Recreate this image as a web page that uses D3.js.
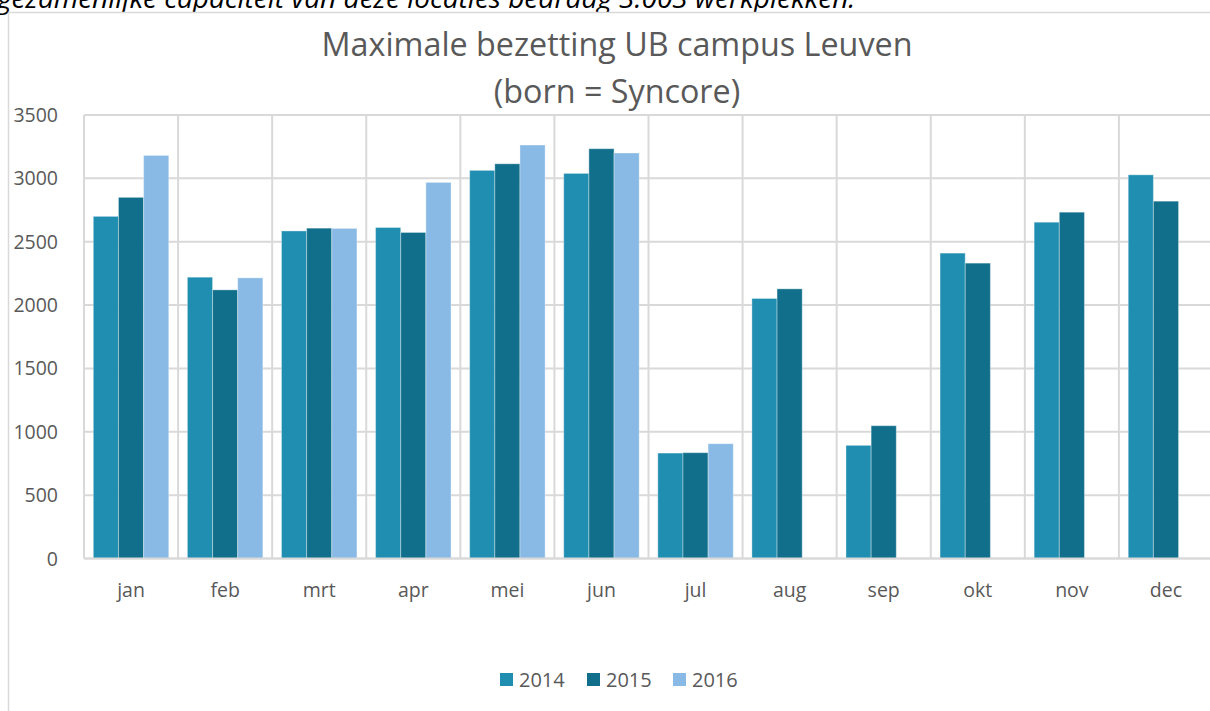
<!DOCTYPE html>
<html>
<head>
<meta charset="utf-8">
<script src="https://cdn.jsdelivr.net/npm/d3@7"></script>
<style>
	body { margin: 0; background: #fff; }
	svg { display: block; font-family: "Open Sans", sans-serif; }
</style>
</head>
<body>
<svg id="chart" width="1210" height="711"></svg>
<script>
// data
const months = ["jan", "feb", "mrt", "apr", "mei", "jun", "jul", "aug", "sep", "okt", "nov", "dec"];
const years = ["2014", "2015", "2016"];
const values2014 = [2700, 2220, 2585, 2612, 3063, 3039, 832, 2052, 893, 2410, 2654, 3028];
const values2015 = [2850, 2120, 2607, 2573, 3115, 3234, 835, 2128, 1048, 2331, 2733, 2820];
const values2016 = [3181, 2215, 2605, 2968, 3263, 3200, 906, null, null, null, null, null];
const yTicks = [0, 500, 1000, 1500, 2000, 2500, 3000, 3500];
const colors = ["#208eb1", "#126f8b", "#89bae5"];

const series = [values2014, values2015, values2016];

const svg = d3.select("#chart");

// text above the chart (cut off in the original)
svg.append("text")
	.attr("x", -3)
	.attr("y", 8)
	.attr("font-style", "italic")
	.attr("font-size", 28)
	.attr("fill", "#000")
	.text("gezamenlijke capaciteit van deze locaties bedraag 3.003 werkplekken.");

// chart frame
svg.append("rect")
	.attr("x", 8.5).attr("y", 12.5)
	.attr("width", 1220).attr("height", 720)
	.attr("fill", "#fff")
	.attr("stroke", "#d9d9d9")
	.attr("stroke-width", 1.5);

// title
const title = svg.append("text")
	.attr("text-anchor", "middle")
	.attr("fill", "#595959")
	.attr("font-size", 32.3);
title.append("tspan").attr("x", 617).attr("y", 56).text("Maximale bezetting UB campus Leuven");
title.append("tspan").attr("x", 617).attr("y", 103).text("(born = Syncore)");

// scales
const x = d3.scaleBand().domain(months).range([84, 1213]).padding(0);
const xSub = d3.scaleBand().domain(years)
	.range([x.bandwidth() * 0.099, x.bandwidth() * 0.901]).padding(0);
const y = d3.scaleLinear().domain([0, 3500]).range([558.5, 115]);

// horizontal gridlines
svg.append("g")
	.selectAll("line")
	.data(yTicks)
	.join("line")
	.attr("x1", 84).attr("x2", 1213)
	.attr("y1", d => y(d)).attr("y2", d => y(d))
	.attr("stroke", "#d9d9d9")
	.attr("stroke-width", 2);

// vertical gridlines between categories
svg.append("g")
	.selectAll("line")
	.data(months)
	.join("line")
	.attr("x1", d => x(d)).attr("x2", d => x(d))
	.attr("y1", y(3500)).attr("y2", y(0))
	.attr("stroke", "#d9d9d9")
	.attr("stroke-width", 2);

// y axis labels
svg.append("g")
	.selectAll("text")
	.data(yTicks)
	.join("text")
	.attr("x", 58)
	.attr("y", d => y(d) + 7)
	.attr("text-anchor", "end")
	.attr("font-size", 19.5)
	.attr("fill", "#595959")
	.text(d => d);

// bars
const groups = svg.append("g")
	.selectAll("g")
	.data(months)
	.join("g")
	.attr("transform", d => `translate(${x(d)},0)`);

groups.selectAll("rect")
	.data((m, i) => years.map((yr, j) => ({ year: yr, value: series[j][i], idx: j })).filter(d => d.value != null))
	.join("rect")
	.attr("x", d => xSub(d.year))
	.attr("width", xSub.bandwidth())
	.attr("y", d => y(d.value))
	.attr("height", d => y(0) - y(d.value))
	.attr("fill", d => colors[d.idx])
	.attr("stroke", "rgba(255,255,255,0.35)")
	.attr("stroke-width", 1);

// baseline
svg.append("line")
	.attr("x1", 84).attr("x2", 1213)
	.attr("y1", y(0)).attr("y2", y(0))
	.attr("stroke", "#d9d9d9")
	.attr("stroke-width", 2);

// x labels
svg.append("g")
	.selectAll("text")
	.data(months)
	.join("text")
	.attr("x", d => x(d) + x.bandwidth() / 2)
	.attr("y", 597)
	.attr("text-anchor", "middle")
	.attr("font-size", 19.5)
	.attr("fill", "#595959")
	.text(d => d);

// legend
const legendX = [500, 587, 673];
const legend = svg.append("g")
	.selectAll("g")
	.data(years)
	.join("g")
	.attr("transform", (d, i) => `translate(${legendX[i]},673)`);

legend.append("rect")
	.attr("width", 13).attr("height", 13)
	.attr("fill", (d, i) => colors[i]);

legend.append("text")
	.attr("x", 19)
	.attr("y", 14)
	.attr("font-size", 20)
	.attr("fill", "#595959")
	.text(d => d);
</script>
</body>
</html>
